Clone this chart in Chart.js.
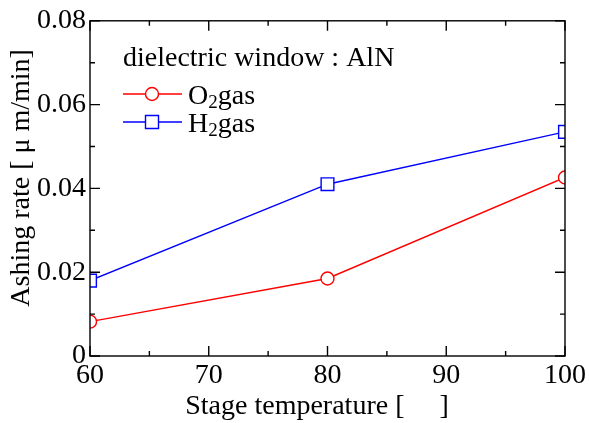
<!DOCTYPE html>
<html lang="en">
<head>
<meta charset="UTF-8">
<title>Ashing rate vs stage temperature</title>
<script src="https://cdn.jsdelivr.net/npm/chart.js@4.4.0/dist/chart.umd.min.js"></script>
<style>
  body { margin: 0; background: #fff; }
  #chart { display: block; }
</style>
</head>
<body>
<canvas id="chart" width="589" height="423"></canvas>
<script>
// data
var temps = [60, 80, 100];
var o2Rate = [0.0082, 0.0185, 0.0426];
var h2Rate = [0.0180, 0.0410, 0.0535];
var seriesLabels = ['O2gas', 'H2gas'];
var legendTitle = 'dielectric window : AlN';
var xTicks = [60, 70, 80, 90, 100];
var yTicks = [0, 0.02, 0.04, 0.06, 0.08];

var SERIF = '"Liberation Serif", "DejaVu Serif", serif';
var NB = '\u00a0';

function toPoints(xs, ys) {
    return xs.map(function (x, i) { return { x: x, y: ys[i] }; });
}

// frame + inward ticks on all four sides, and the legend box
var framePlugin = {
    id: 'frame',
    afterDraw: function (chart) {
        var ctx = chart.ctx;
        var a = chart.chartArea;
        var xs = chart.scales.x, ys = chart.scales.y;
        ctx.save();
        ctx.strokeStyle = '#000';
        ctx.lineWidth = 1.4;
        ctx.strokeRect(a.left, a.top, a.right - a.left, a.bottom - a.top);

        ctx.beginPath();
        for (var v = xs.min; v <= xs.max + 0.001; v += 5) {
            var px = xs.getPixelForValue(v);
            var len = (v % 10 === 0) ? 10 : 5;
            ctx.moveTo(px, a.bottom); ctx.lineTo(px, a.bottom - len);
            ctx.moveTo(px, a.top); ctx.lineTo(px, a.top + len);
        }
        for (var k = 0; k <= 8; k++) {
            var py = ys.getPixelForValue(k * 0.01);
            var l2 = (k % 2 === 0) ? 10 : 5;
            ctx.moveTo(a.left, py); ctx.lineTo(a.left + l2, py);
            ctx.moveTo(a.right, py); ctx.lineTo(a.right - l2, py);
        }
        ctx.stroke();

        // legend
        ctx.fillStyle = '#000';
        ctx.textBaseline = 'alphabetic';
        ctx.textAlign = 'left';
        ctx.font = '28px ' + SERIF;
        ctx.fillText(legendTitle, 123, 66);

        var rows = [94, 122];
        chart.data.datasets.forEach(function (ds, i) {
            var y = rows[i];
            ctx.strokeStyle = ds.borderColor;
            ctx.lineWidth = ds.borderWidth;
            ctx.beginPath();
            ctx.moveTo(123, y); ctx.lineTo(182, y);
            ctx.stroke();
            ctx.fillStyle = '#fff';
            ctx.beginPath();
            if (ds.pointStyle === 'rect') {
                ctx.rect(145.5, y - 6.5, 13, 13);
            } else {
                ctx.arc(152, y, ds.pointRadius, 0, Math.PI * 2);
            }
            ctx.fill();
            ctx.stroke();

            // label with subscript digits
            var x = 188, base = y + 10;
            ctx.fillStyle = '#000';
            seriesLabels[i].split('').forEach(function (ch) {
                if (/[0-9]/.test(ch)) {
                    ctx.font = '19px ' + SERIF;
                    ctx.fillText(ch, x, base + 4);
                } else {
                    ctx.font = '28px ' + SERIF;
                    ctx.fillText(ch, x, base);
                }
                x += ctx.measureText(ch).width;
            });
        });
        ctx.restore();
    }
};

new Chart(document.getElementById('chart'), {
    type: 'scatter',
    data: {
        datasets: [{
            label: seriesLabels[0],
            data: toPoints(temps, o2Rate),
            showLine: true,
            borderColor: '#ff0000',
            backgroundColor: '#ffffff',
            borderWidth: 1.4,
            pointStyle: 'circle',
            pointRadius: 6.5,
            pointHoverRadius: 6.5
        }, {
            label: seriesLabels[1],
            data: toPoints(temps, h2Rate),
            showLine: true,
            borderColor: '#0000ff',
            backgroundColor: '#ffffff',
            borderWidth: 1.4,
            pointStyle: 'rect',
            pointRadius: 9,
            pointHoverRadius: 9
        }]
    },
    options: {
        responsive: false,
        animation: false,
        layout: { padding: { top: 19, right: 23, left: 0, bottom: 0 } },
        plugins: {
            legend: { display: false },
            tooltip: { enabled: false }
        },
        scales: {
            x: {
                type: 'linear',
                min: 60, max: 100,
                grid: { display: false, drawTicks: false },
                border: { display: false },
                afterBuildTicks: function (s) { s.ticks = xTicks.map(function (v) { return { value: v }; }); },
                afterFit: function (s) { s.height = 67; },
                ticks: {
                    color: '#000',
                    padding: 3,
                    font: { family: SERIF, size: 28 }
                },
                title: {
                    display: true,
                    // trailing blanks nudge the visible text left, as in the original
                    text: 'Stage temperature [' + NB + NB + NB + NB + NB + ']' + NB + NB + NB,
                    color: '#000',
                    padding: { top: 0, bottom: 0 },
                    font: { family: SERIF, size: 28 }
                }
            },
            y: {
                min: 0, max: 0.08,
                grid: { display: false, drawTicks: false },
                border: { display: false },
                afterBuildTicks: function (s) { s.ticks = yTicks.map(function (v) { return { value: v }; }); },
                afterFit: function (s) { s.width = 90; },
                ticks: {
                    color: '#000',
                    padding: 4,
                    font: { family: SERIF, size: 28 },
                    callback: function (v) { return v === 0 ? '0' : v.toFixed(2); }
                },
                title: {
                    display: true,
                    text: NB + NB + NB + 'Ashing rate [ \u03bc m/min]',
                    color: '#000',
                    padding: { top: 5, bottom: 0 },
                    font: { family: SERIF, size: 28 }
                }
            }
        }
    },
    plugins: [framePlugin]
});
</script>
</body>
</html>
